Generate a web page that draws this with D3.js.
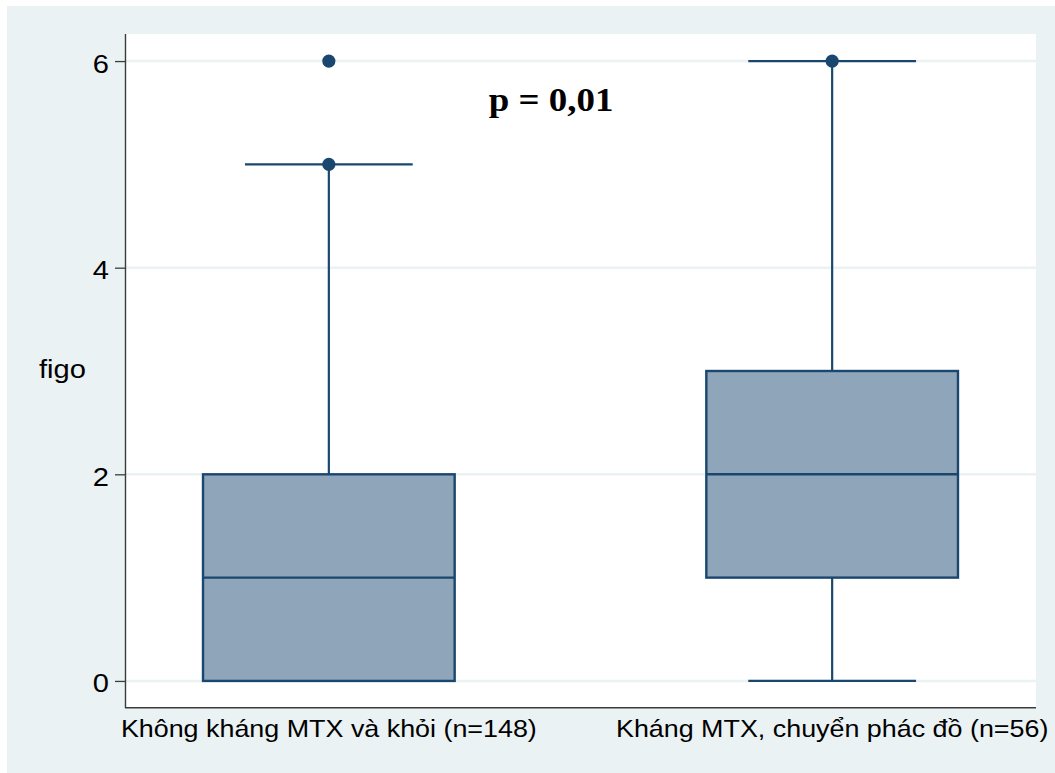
<!DOCTYPE html>
<html>
<head>
<meta charset="utf-8">
<script src="https://cdn.jsdelivr.net/npm/d3@7"></script>
<style>
  html, body { margin: 0; padding: 0; background: #ffffff; }
  svg { display: block; }
</style>
</head>
<body>
<script>
// ---- data ----
const categories = ["Không kháng MTX và khỏi (n=148)", "Kháng MTX, chuyển phác đồ (n=56)"];
const q1Values = [0, 1];
const medianValues = [1, 2];
const q3Values = [2, 3];
const lowerWhisker = [0, 0];
const upperWhisker = [5, 6];
const outlierValues = [[5, 6], [6]];
const yTicks = [0, 2, 4, 6];
const yTitle = "figo";
const annotation = "p = 0,01";

// ---- layout ----
const W = 1055, H = 773;
const plot = { left: 125, right: 1036, top: 34, bottom: 708 };
const STRETCH = 1.12;
const navy = "#1a476f";
const boxFill = "#8fa5b9";
const bg = "#eaf2f3";
const axisColor = "#3c3c3c";

const svg = d3.select("body").append("svg").attr("width", W).attr("height", H);

svg.append("rect").attr("x", 7).attr("y", 6).attr("width", W - 7).attr("height", H - 6).attr("fill", bg);
svg.append("rect").attr("x", plot.left).attr("y", plot.top)
  .attr("width", plot.right - plot.left).attr("height", plot.bottom - plot.top).attr("fill", "#ffffff");

const x = d3.scaleBand().domain(categories).range([plot.left, plot.right])
  .paddingInner(0.5).paddingOuter(0.155);
const y = d3.scaleLinear().domain([-0.262, 6.262]).range([plot.bottom, plot.top]);

function stretchedText(g, tx, ty, str, anchor, size, family, weight) {
  return g.append("text")
    .attr("transform", `translate(${tx},${ty}) scale(${STRETCH},1)`)
    .attr("text-anchor", anchor)
    .attr("font-family", family)
    .attr("font-size", size)
    .attr("font-weight", weight || "normal")
    .attr("fill", "#000")
    .text(str);
}

// gridlines
svg.append("g").selectAll("line").data(yTicks).join("line")
  .attr("x1", plot.left).attr("x2", plot.right)
  .attr("y1", d => y(d)).attr("y2", d => y(d))
  .attr("stroke", bg).attr("stroke-width", 2.4);

// y axis
const yAxis = d3.axisLeft(y).tickValues(yTicks).tickSize(10).tickPadding(6).tickFormat(d3.format("d"));
const gy = svg.append("g").attr("transform", `translate(${plot.left},0)`).call(yAxis);
gy.select(".domain").remove();
gy.selectAll(".tick line").attr("stroke", axisColor).attr("stroke-width", 1.3);
gy.selectAll(".tick text").remove();
gy.selectAll(".tick").each(function(d) {
  stretchedText(d3.select(this), -16, 11, d3.format("d")(d), "end", 26, "Liberation Sans, Arial, sans-serif");
});
svg.append("line").attr("x1", plot.left + 0.5).attr("x2", plot.left + 0.5)
  .attr("y1", plot.top).attr("y2", plot.bottom)
  .attr("stroke", axisColor).attr("stroke-width", 1.4);

// x axis
const xAxis = d3.axisBottom(x).tickSize(0).tickPadding(0);
const gx = svg.append("g").attr("transform", `translate(0,${plot.bottom})`).call(xAxis);
gx.select(".domain").remove();
gx.selectAll(".tick text").remove();
gx.selectAll(".tick").each(function(d) {
  stretchedText(d3.select(this), 0, 29, d, "middle", 24, "Liberation Sans, Arial, sans-serif");
});
svg.append("line").attr("x1", plot.left).attr("x2", plot.right)
  .attr("y1", plot.bottom - 0.3).attr("y2", plot.bottom - 0.3)
  .attr("stroke", axisColor).attr("stroke-width", 1.4);

// y title
stretchedText(svg, 39, 378, yTitle, "start", 26, "Liberation Sans, Arial, sans-serif");

// boxes
const bw = x.bandwidth();
const capW = bw * 2 / 3;
const boxes = categories.map((c, i) => ({
  c, q1: q1Values[i], med: medianValues[i], q3: q3Values[i],
  lo: lowerWhisker[i], hi: upperWhisker[i], out: outlierValues[i]
}));
const gb = svg.append("g");
boxes.forEach(b => {
  const cx = x(b.c) + bw / 2;
  // whiskers
  gb.append("line").attr("x1", cx).attr("x2", cx).attr("y1", y(b.q3)).attr("y2", y(b.hi))
    .attr("stroke", navy).attr("stroke-width", 2.2);
  gb.append("line").attr("x1", cx).attr("x2", cx).attr("y1", y(b.q1)).attr("y2", y(b.lo))
    .attr("stroke", navy).attr("stroke-width", 2.2);
  gb.append("line").attr("x1", cx - capW / 2).attr("x2", cx + capW / 2).attr("y1", y(b.hi)).attr("y2", y(b.hi))
    .attr("stroke", navy).attr("stroke-width", 2.2);
  gb.append("line").attr("x1", cx - capW / 2).attr("x2", cx + capW / 2).attr("y1", y(b.lo)).attr("y2", y(b.lo))
    .attr("stroke", navy).attr("stroke-width", 2.2);
  // box
  gb.append("rect").attr("x", x(b.c)).attr("width", bw)
    .attr("y", y(b.q3)).attr("height", y(b.q1) - y(b.q3))
    .attr("fill", boxFill).attr("stroke", navy).attr("stroke-width", 2.4);
  gb.append("line").attr("x1", x(b.c)).attr("x2", x(b.c) + bw).attr("y1", y(b.med)).attr("y2", y(b.med))
    .attr("stroke", navy).attr("stroke-width", 2.4);
  // outliers
  gb.selectAll(null).data(b.out).join("circle")
    .attr("cx", cx).attr("cy", d => y(d)).attr("r", 6.6).attr("fill", navy);
});

// annotation
stretchedText(svg, 551, 111, annotation, "middle", 33, "Liberation Serif, Times New Roman, serif", "bold");
</script>
</body>
</html>
